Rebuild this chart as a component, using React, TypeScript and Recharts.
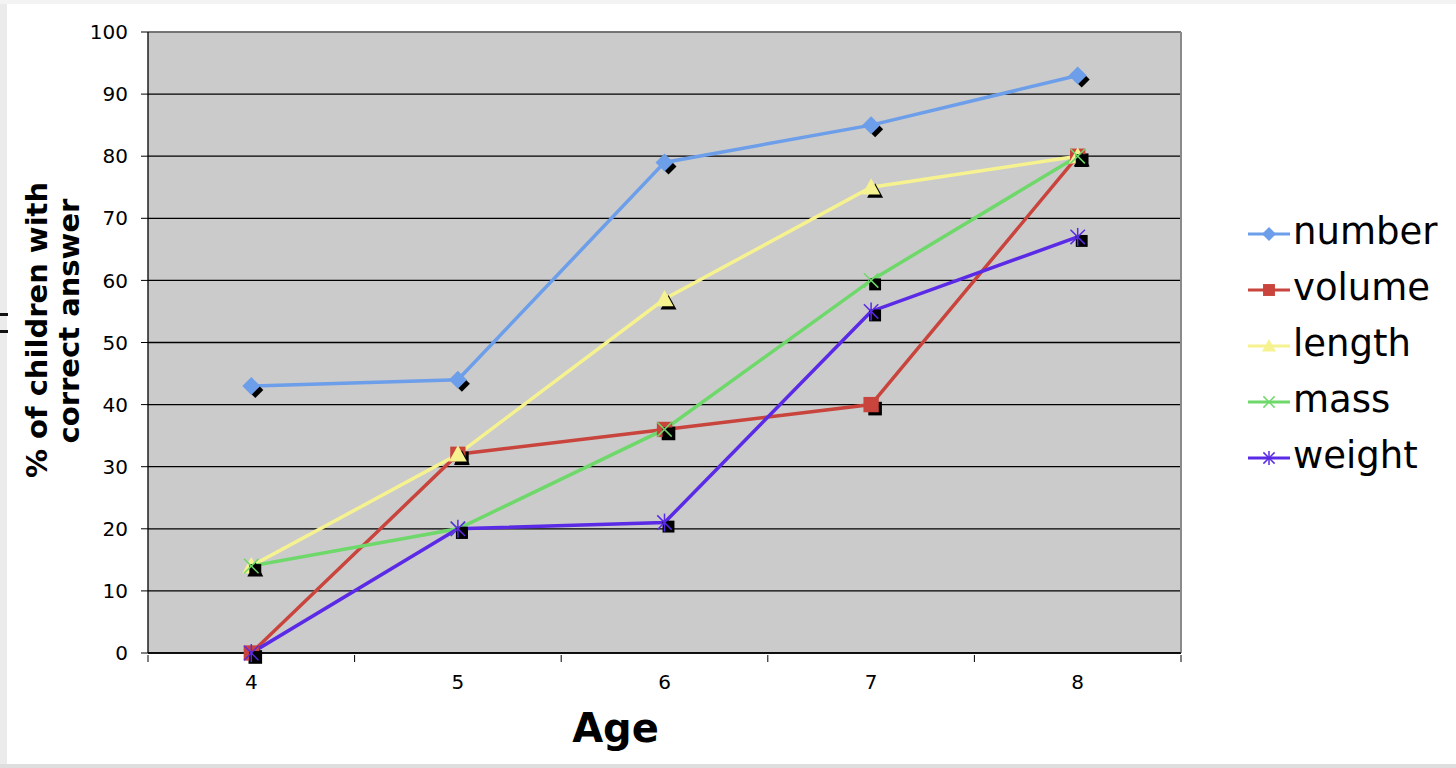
import React from 'react';
import { LineChart, Line, XAxis, YAxis, CartesianGrid, Legend, Label, ReferenceLine } from 'recharts';

const ages = [4, 5, 6, 7, 8];
const numberVals = [43, 44, 79, 85, 93];
const volumeVals = [0, 32, 36, 40, 80];
const lengthVals = [14, 32, 57, 75, 80];
const massVals = [14, 20, 36, 60, 80];
const weightVals = [0, 20, 21, 55, 67];
const yTicks = [0, 10, 20, 30, 40, 50, 60, 70, 80, 90, 100];
const xTicks = [3.5, 4, 4.5, 5, 5.5, 6, 6.5, 7, 7.5, 8, 8.5];

const data = ages.map((age, i) => ({
  age,
  number: numberVals[i],
  volume: volumeVals[i],
  length: lengthVals[i],
  mass: massVals[i],
  weight: weightVals[i],
}));

type Shape = 'diamond' | 'square' | 'triangle' | 'x' | 'star';

const series: { key: string; color: string; shape: Shape }[] = [
  { key: 'number', color: '#6c9eea', shape: 'diamond' },
  { key: 'volume', color: '#c8443c', shape: 'square' },
  { key: 'length', color: '#f6f290', shape: 'triangle' },
  { key: 'mass', color: '#6fd86a', shape: 'x' },
  { key: 'weight', color: '#5a2ae6', shape: 'star' },
];

function marker(shape: Shape, cx: number, cy: number, color: string, s: number) {
  switch (shape) {
    case 'diamond':
      return <polygon points={`${cx},${cy - s} ${cx + s},${cy} ${cx},${cy + s} ${cx - s},${cy}`} fill={color} />;
    case 'square':
      return <rect x={cx - s * 0.85} y={cy - s * 0.85} width={s * 1.7} height={s * 1.7} fill={color} />;
    case 'triangle':
      return <polygon points={`${cx},${cy - s} ${cx + s},${cy + s * 0.8} ${cx - s},${cy + s * 0.8}`} fill={color} />;
    case 'x':
      return (
        <g stroke={color} strokeWidth={1.5}>
          <line x1={cx - s * 0.8} y1={cy - s * 0.8} x2={cx + s * 0.8} y2={cy + s * 0.8} />
          <line x1={cx - s * 0.8} y1={cy + s * 0.8} x2={cx + s * 0.8} y2={cy - s * 0.8} />
        </g>
      );
    case 'star':
      return (
        <g stroke={color} strokeWidth={1.5}>
          <line x1={cx - s * 0.8} y1={cy - s * 0.8} x2={cx + s * 0.8} y2={cy + s * 0.8} />
          <line x1={cx - s * 0.8} y1={cy + s * 0.8} x2={cx + s * 0.8} y2={cy - s * 0.8} />
          <line x1={cx} y1={cy - s} x2={cx} y2={cy + s} />
        </g>
      );
  }
  return null;
}

const makeDot = (shape: Shape, color: string) => (props: any) => {
  const { cx, cy, index } = props;
  if (cx == null || cy == null) return <g key={index} />;
  const shadowShape: Shape = shape === 'x' || shape === 'star' ? 'square' : shape;
  const shadowSize = shape === 'x' || shape === 'star' ? 7 : 8;
  return (
    <g key={index}>
      {marker(shadowShape, cx + 4, cy + 4, '#000', shadowSize)}
      {marker(shape, cx, cy, color, 9)}
    </g>
  );
};

const XTick = (props: any) => {
  const { x, y, payload } = props;
  const v = payload.value;
  if (Number.isInteger(v)) {
    return (
      <text x={x} y={y + 34} textAnchor="middle" fontSize={20} fill="#000" fontFamily="DejaVu Sans">
        {v}
      </text>
    );
  }
  return <line x1={x} x2={x} y1={y} y2={y + 7} stroke="#000" strokeWidth={1} />;
};

const YLabel = (props: any) => {
  const cx = 52;
  const cy = 328;
  return (
    <g fontFamily="DejaVu Sans" fontWeight="bold" fontSize={29} fill="#000">
      <text transform={`translate(${cx - 5},${cy + 2}) rotate(-90)`} textAnchor="middle">% of children with</text>
      <text transform={`translate(${cx + 27},${cy - 7}) rotate(-90)`} textAnchor="middle">correct answer</text>
    </g>
  );
};

const LegendContent = () => (
  <div style={{ fontFamily: 'DejaVu Sans', fontSize: 37, color: '#000' }}>
    {series.map((s) => (
      <div key={s.key} style={{ height: 56, display: 'flex', alignItems: 'center' }}>
        <svg width={46} height={24} style={{ flex: 'none' }}>
          <line x1={2} x2={44} y1={12} y2={12} stroke={s.color} strokeWidth={3} />
          {marker(s.shape, 23, 12, s.color, 7)}
        </svg>
        <span style={{ marginLeft: 1, lineHeight: '56px', position: 'relative', top: -2 }}>{s.key}</span>
      </div>
    ))}
  </div>
);

export default function App() {
  return (
    <div style={{ position: 'absolute', left: 0, top: 0, width: 1456, height: 768, background: '#fff', overflow: 'hidden' }}>
      <div style={{ position: 'absolute', left: 0, top: 0, width: 7, height: 768, background: '#ebebeb' }} />
      <div style={{ position: 'absolute', left: 0, top: 0, width: 1456, height: 4, background: '#f3f3f3' }} />
      <div style={{ position: 'absolute', left: 0, top: 764, width: 1456, height: 4, background: '#dedede' }} />
      <div style={{ position: 'absolute', left: 0, top: 313, width: 8, height: 3, background: '#111' }} />
      <div style={{ position: 'absolute', left: 0, top: 330, width: 8, height: 3, background: '#111' }} />
      <div style={{ position: 'absolute', left: 0, top: 0 }}>
        <LineChart width={1456} height={768} data={data} margin={{ top: 32, right: 275, left: 0, bottom: 0 }}>
          <CartesianGrid horizontal vertical={false} stroke="#000" strokeWidth={1.3} fill="#cbcbcb" fillOpacity={1} />
          <XAxis
            dataKey="age"
            type="number"
            domain={[3.5, 8.5]}
            ticks={xTicks}
            interval={0}
            allowDecimals
            height={115}
            tickSize={0}
            tickLine={false}
            tick={<XTick />}
            axisLine={{ stroke: '#000', strokeWidth: 1.3 }}
          >
            <Label
              value="Age"
              position="insideBottom"
              offset={26}
              dx={-49}
              style={{ fontFamily: 'DejaVu Sans', fontWeight: 'bold', fontSize: 40, fill: '#000' }}
            />
          </XAxis>
          <YAxis
            domain={[0, 100]}
            ticks={yTicks}
            interval={0}
            width={148}
            tickSize={7}
            tickMargin={13}
            tick={{ fontSize: 20, fill: '#000', fontFamily: 'DejaVu Sans' }}
            tickLine={{ stroke: '#000' }}
            axisLine={{ stroke: '#000', strokeWidth: 1.3 }}
            label={<YLabel />}
          />
          <ReferenceLine x={8.5} stroke="#8a8a8a" strokeWidth={2} />
          <ReferenceLine y={100} stroke="#8a8a8a" strokeWidth={1.5} />
          <Legend
            layout="vertical"
            align="center"
            verticalAlign="middle"
            content={<LegendContent />}
            wrapperStyle={{ left: 1246, top: 206, width: 210 }}
          />
          {series.map((s) => (
            <Line
              key={s.key}
              dataKey={s.key}
              stroke={s.color}
              strokeWidth={3.5}
              dot={makeDot(s.shape, s.color)}
              activeDot={false}
              isAnimationActive={false}
            />
          ))}
        </LineChart>
      </div>
    </div>
  );
}
